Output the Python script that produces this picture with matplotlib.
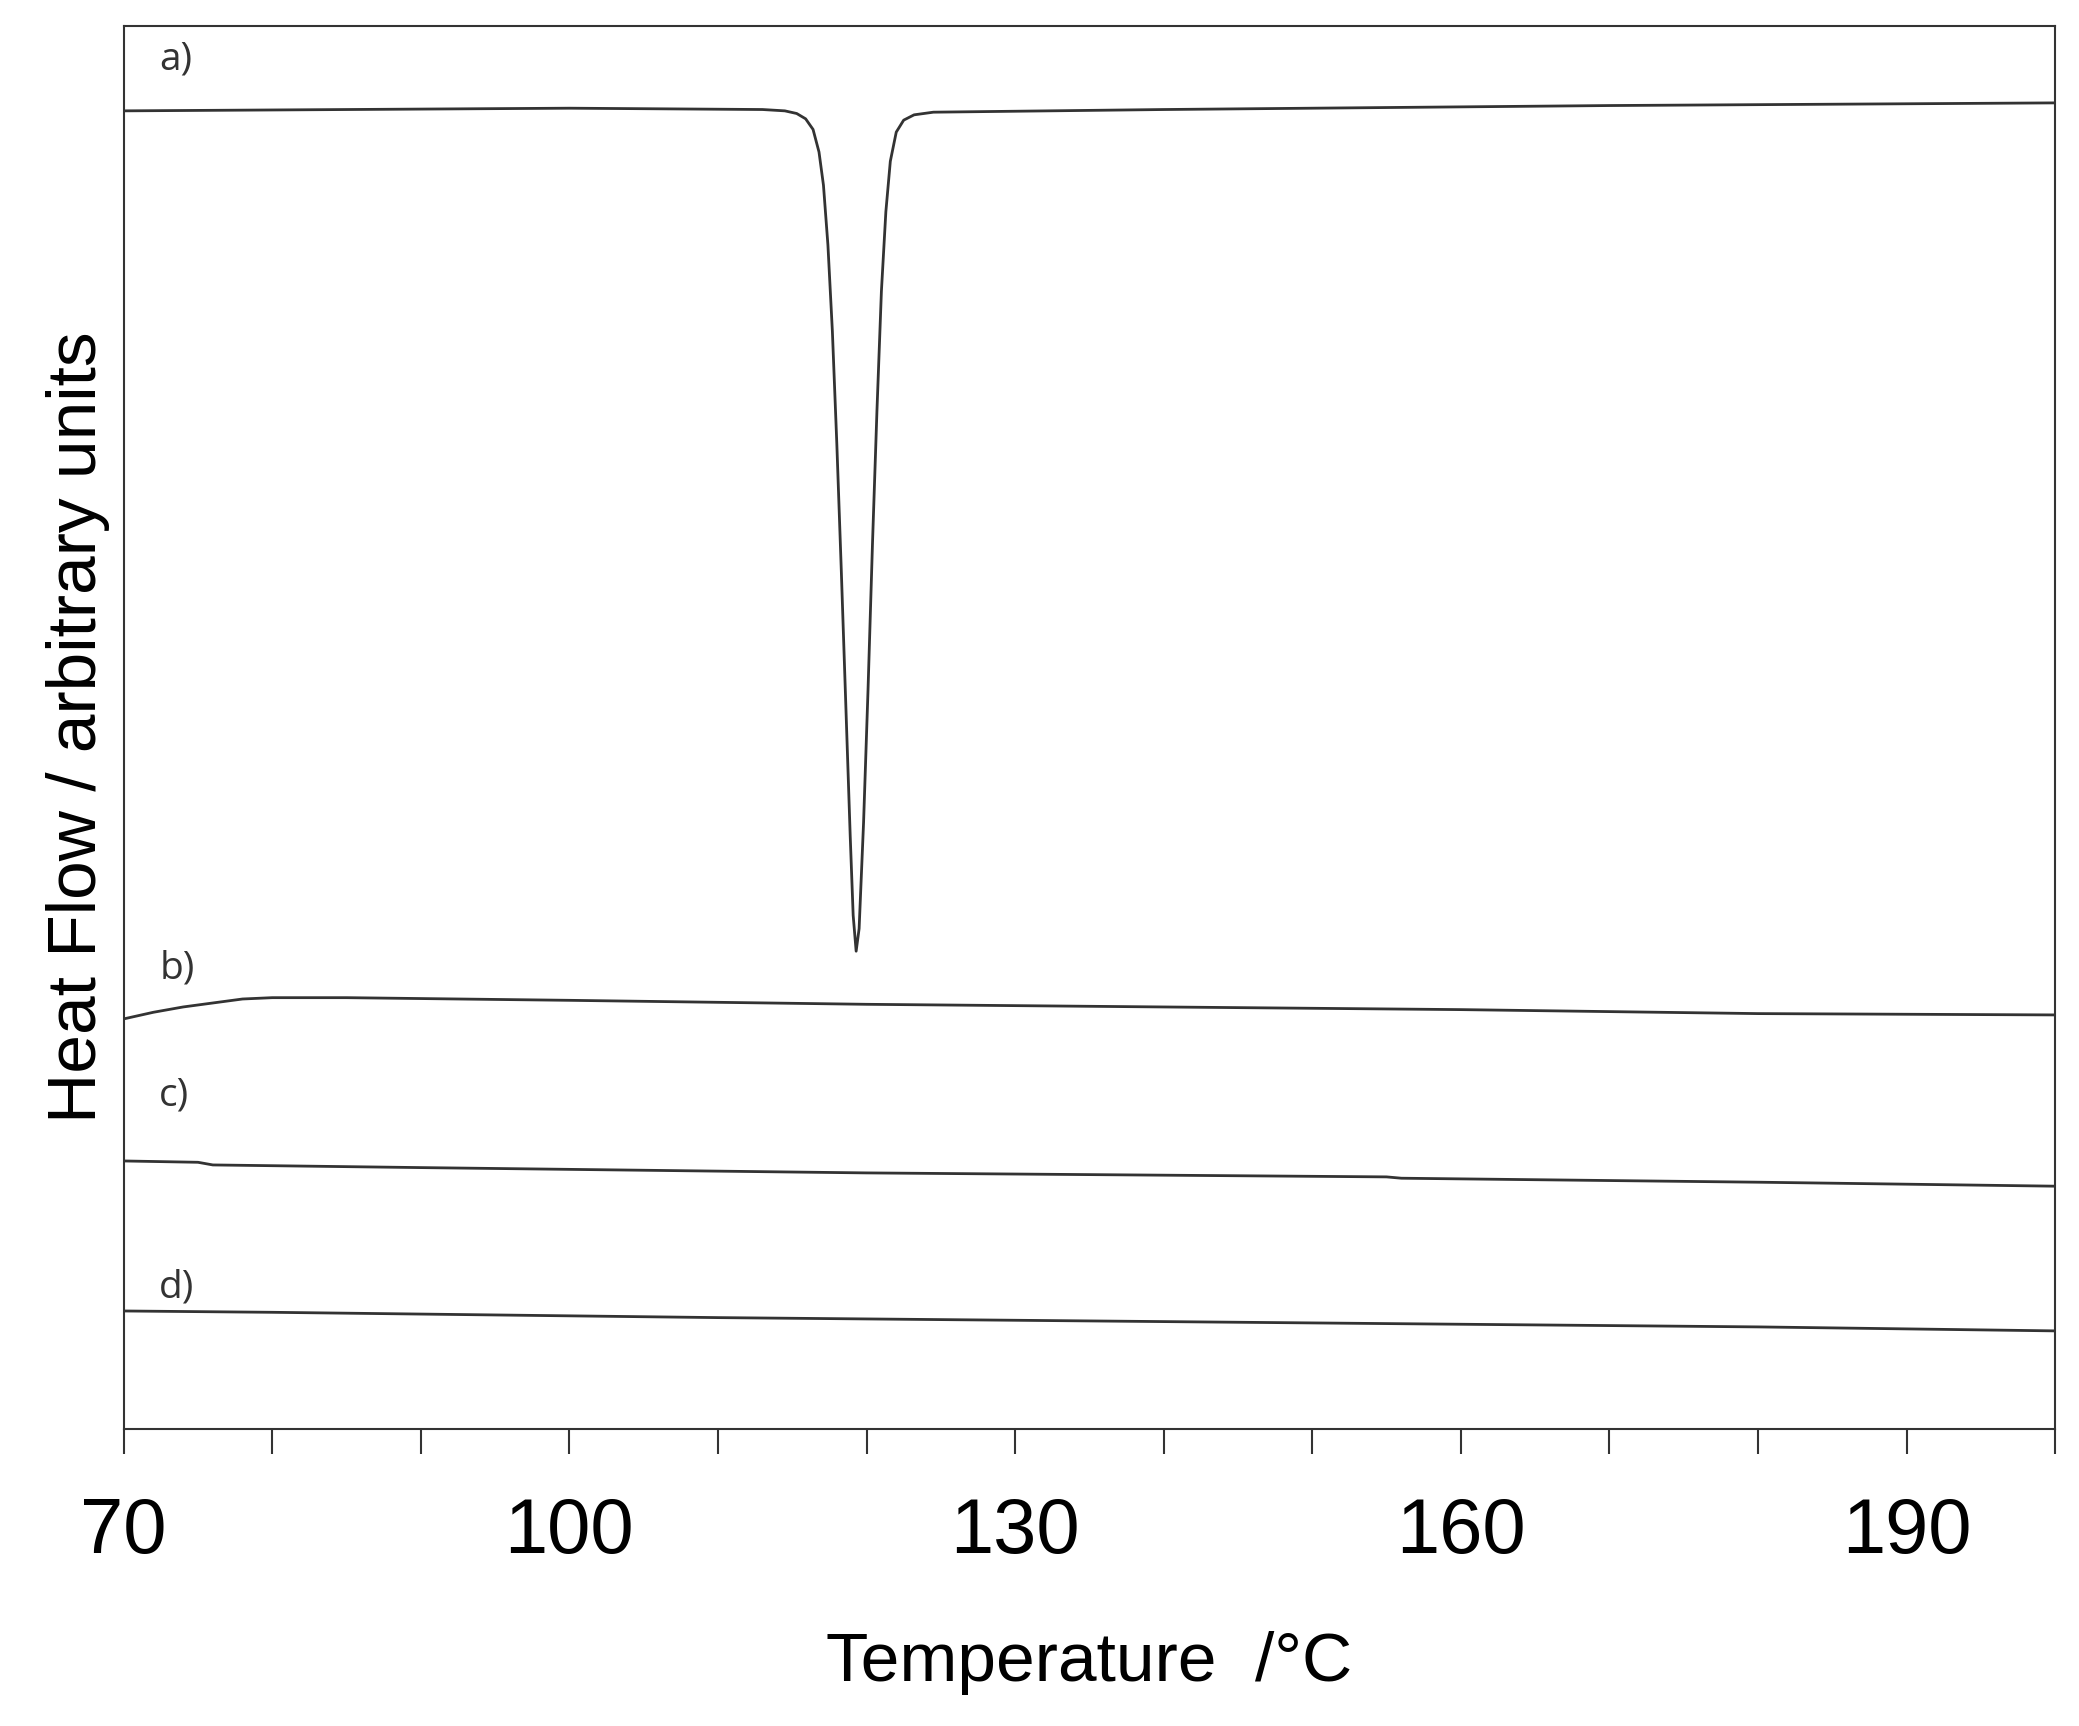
import matplotlib
matplotlib.use("Agg")
import matplotlib.pyplot as plt
from matplotlib.ticker import MultipleLocator

# Heat flow in arbitrary units (larger = lower on the plot)
xa = [70, 100, 113, 114.5, 115.3, 115.9, 116.4, 116.8, 117.1, 117.4, 117.7, 118.0, 118.3, 118.6, 118.9, 119.1, 119.3,
      119.5, 119.8, 120.1, 120.4, 120.7, 121.0, 121.3, 121.6, 122.0, 122.5, 123.2, 124.5, 140, 170, 200]
ya = [84, 82, 83, 84, 86, 90, 98, 115, 140, 185, 250, 335, 430, 530, 630, 690, 717,
      700, 620, 520, 410, 310, 220, 160, 122, 100, 91, 87, 85, 83, 80, 78]
xb = [70, 72, 74, 76, 78, 80, 85, 100, 120, 140, 160, 180, 200]
yb = [768, 763, 759, 756, 753, 752, 752, 754, 757, 759, 761, 764, 765]
xc = [70, 75, 76, 90, 120, 155, 156, 180, 200]
yc = [875, 876, 878, 880, 884, 887, 888, 891, 894]
xd = [70, 80, 110, 150, 180, 200]
yd = [988, 989, 993, 997, 1000, 1003]
labels = ["a)", "b)", "c)", "d)"]
label_y = [45, 730, 826, 970]
xticks = [70, 100, 130, 160, 190]

fig = plt.figure(figsize=(20.79, 17.26), dpi=100)
ax = fig.add_axes([0.0595, 0.172, 0.929, 0.813])
for x, y in [(xa, ya), (xb, yb), (xc, yc), (xd, yd)]:
    ax.plot(x, y, color="#333333", lw=2)
ax.set_xlim(70, 200)
ax.set_ylim(1077, 20)
for t, yy in zip(labels, label_y):
    ax.text(72.4, yy, t, fontsize=28, family="Open Sans", color="#333333", va="center")
ax.set_xticks(xticks)
ax.xaxis.set_minor_locator(MultipleLocator(10))
ax.tick_params(axis="x", which="both", direction="out", length=18, width=1.5, color="#333333")
ax.tick_params(axis="x", which="major", labelsize=56, pad=30)
ax.set_yticks([])
for lab in ax.get_xticklabels():
    lab.set_family("Liberation Sans")
for s in ax.spines.values():
    s.set_color("#333333"); s.set_linewidth(1.5)
ax.set_xlabel("Temperature  /°C", fontsize=50, family="Liberation Sans", labelpad=45)
ax.set_ylabel("Heat Flow / arbitrary units", fontsize=50, family="Liberation Sans", labelpad=10)
fig.savefig("out.png")
